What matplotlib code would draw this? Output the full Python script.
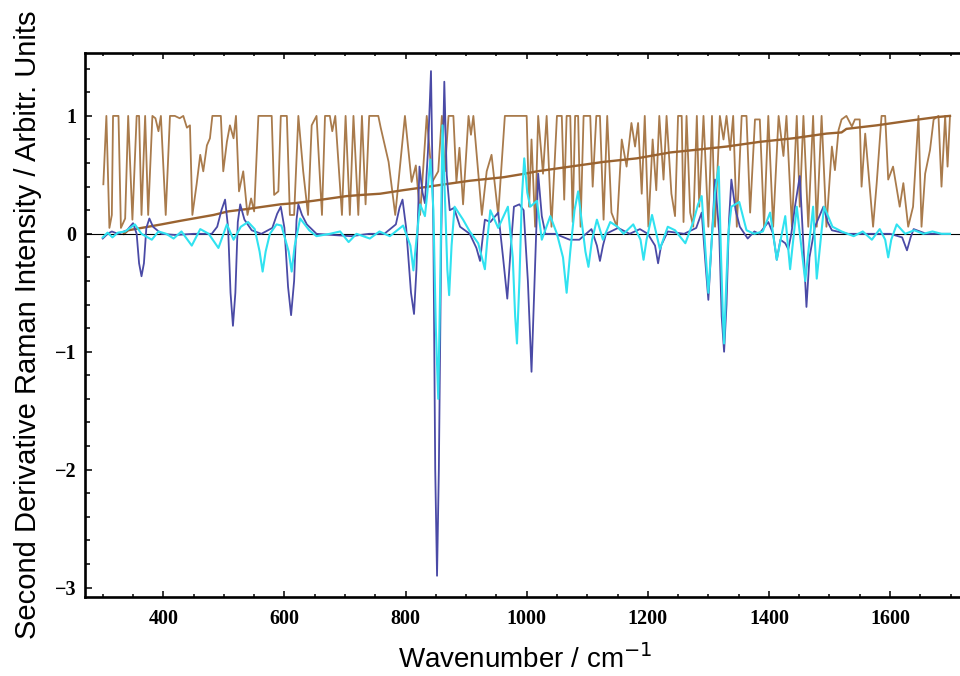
import numpy as np
import matplotlib
matplotlib.use('Agg')
import matplotlib.pyplot as plt
from matplotlib.ticker import MultipleLocator

# second derivative spectrum (dark blue)
blue_x = [300, 308, 315, 325, 340, 350, 356, 360, 364, 368, 372, 377, 383, 397, 420, 450, 480, 489,
          496, 502, 507, 511, 515, 519, 523, 527, 534, 546, 562, 580, 588, 594, 600, 606, 611, 616,
          620, 623, 629, 637, 653, 680, 710, 740, 765, 784, 790, 795, 801, 809, 814, 818, 823, 828,
          832, 837, 842, 846, 849, 852, 855, 859, 864, 868, 873, 880, 890, 906, 917, 923, 927, 931,
          940, 953, 961, 968, 974, 979, 988, 995, 1002, 1008, 1013, 1019, 1025, 1031, 1047, 1071,
          1087, 1107, 1116, 1121, 1126, 1131, 1151, 1170, 1187, 1200, 1212, 1217, 1222, 1233, 1260,
          1280, 1289, 1296, 1300, 1304, 1311, 1318, 1322, 1326, 1330, 1334, 1338, 1345, 1352, 1365,
          1376, 1384, 1399, 1407, 1413, 1419, 1427, 1432, 1437, 1443, 1451, 1457, 1462, 1467, 1476,
          1490, 1497, 1504, 1530, 1560, 1600, 1620, 1628, 1634, 1639, 1660, 1699]
blue_y = [-0.04, 0.0, 0.02, 0.0, 0.03, 0.09, 0.0, -0.25, -0.36, -0.25, 0.05, 0.13, 0.06, 0.0, -0.01,
          0.0, 0.0, 0.06, 0.2, 0.29, 0.05, -0.5, -0.78, -0.5, 0.1, 0.25, 0.12, 0.03, 0.0, 0.05, 0.17,
          0.23, 0.05, -0.45, -0.69, -0.4, 0.12, 0.25, 0.16, 0.08, 0.0, -0.01, -0.02, 0.0, 0.0, 0.08,
          0.22, 0.29, 0.05, -0.5, -0.68, -0.3, 0.57, 0.35, 0.26, 0.7, 1.38, 0.0, -2.0, -2.9, -2.0,
          0.0, 1.29, 0.5, 0.2, 0.22, 0.06, 0.0, -0.12, -0.23, -0.05, 0.12, 0.1, 0.18, -0.2, -0.55,
          -0.1, 0.23, 0.25, 0.2, -0.4, -1.17, -0.4, 0.51, 0.15, 0.0, 0.0, -0.05, -0.05, 0.04, -0.1,
          -0.23, -0.1, 0.0, 0.05, 0.0, 0.04, 0.0, -0.1, -0.25, -0.1, 0.02, 0.0, 0.05, 0.18, -0.3,
          -0.56, -0.2, 0.46, 0.0, -0.7, -1.0, -0.6, 0.1, 0.46, 0.2, 0.06, -0.04, 0.02, 0.0, 0.1,
          0.0, -0.22, -0.05, -0.08, -0.13, 0.0, 0.23, 0.49, -0.1, -0.62, -0.2, 0.06, 0.23, 0.1,
          0.03, 0.0, 0.0, 0.0, -0.03, -0.14, -0.03, 0.04, 0.0, 0.0]

# second derivative spectrum (cyan)
cyan_x = [300, 308, 316, 325, 337, 353, 364, 381, 392, 405, 417, 430, 447, 461, 475, 491, 505, 516,
          528, 540, 551, 559, 564, 569, 576, 587, 595, 607, 612, 617, 626, 641, 653, 675, 692, 706,
          719, 741, 757, 774, 796, 808, 813, 818, 824, 832, 836, 841, 846, 850, 854, 857, 861, 865,
          869, 872, 876, 881, 895, 906, 920, 926, 931, 935, 940, 953, 969, 977, 981, 984, 988, 992,
          996, 1001, 1006, 1017, 1025, 1039, 1050, 1060, 1066, 1072, 1079, 1085, 1091, 1097, 1102,
          1108, 1116, 1126, 1138, 1150, 1160, 1176, 1188, 1193, 1198, 1207, 1220, 1233, 1245, 1262,
          1275, 1283, 1289, 1296, 1300, 1305, 1311, 1317, 1321, 1324, 1326, 1329, 1333, 1338, 1351,
          1363, 1376, 1390, 1402, 1413, 1427, 1435, 1446, 1460, 1473, 1479, 1491, 1505, 1520, 1540,
          1555, 1570, 1583, 1592, 1597, 1602, 1611, 1625, 1640, 1655, 1670, 1685, 1699]
cyan_y = [-0.03, 0.01, -0.03, 0.01, 0.02, 0.08, 0.0, -0.05, 0.02, 0.0, -0.04, 0.02, -0.1, 0.04, 0.0,
          -0.12, 0.08, -0.05, 0.06, 0.1, 0.04, -0.15, -0.32, -0.15, 0.0, 0.08, 0.07, -0.15, -0.32,
          -0.1, 0.13, 0.03, -0.02, 0.0, 0.02, -0.07, 0.0, -0.04, 0.02, -0.02, 0.07, -0.1, -0.31,
          -0.05, 0.25, 0.15, 0.35, 0.63, 0.2, -0.8, -1.4, -0.5, 0.92, 0.3, -0.3, -0.52, -0.1, 0.23,
          0.12, 0.02, -0.08, -0.2, -0.3, -0.05, 0.2, 0.05, 0.23, -0.2, -0.7, -0.93, -0.4, 0.3, 0.64,
          0.35, 0.23, 0.28, -0.05, 0.15, 0.0, -0.2, -0.5, -0.15, 0.2, 0.36, 0.1, -0.15, -0.28, -0.05,
          0.12, -0.05, 0.1, 0.06, 0.0, 0.08, -0.05, -0.22, -0.05, 0.16, -0.13, 0.06, 0.03, -0.08,
          0.1, 0.25, 0.32, -0.2, -0.5, -0.1, 0.35, 0.57, -0.2, -0.7, -0.93, -0.5, 0.0, 0.23, 0.27,
          0.03, 0.0, 0.02, 0.18, -0.22, 0.15, -0.3, 0.23, -0.4, 0.23, -0.38, 0.23, 0.06, 0.02,
          -0.02, 0.02, -0.05, 0.04, -0.05, -0.2, -0.05, 0.08, 0.0, 0.03, 0.0, 0.02, 0.0, 0.0]

# noisy brown trace (0..1), vertices as (wavenumber, value)
brown_pts = [
    (301, 0.42), (306, 1.0), (311, 0.05), (315, 0.16), (317, 1.0), (326, 1.0), (330, 0.05),
    (337, 0.13), (342, 1.0), (349, 0.12), (356, 1.0), (360, 1.0), (364, 0.16), (370, 1.0),
    (375, 0.16), (382, 1.0), (387, 0.98), (392, 0.87), (396, 1.0), (404, 0.16), (411, 1.0),
    (419, 1.0), (427, 0.98), (433, 1.0), (439, 0.9), (444, 0.92), (448, 0.16), (455, 0.42),
    (461, 0.67), (466, 0.53), (472, 0.75), (477, 0.81), (481, 1.0), (495, 1.0), (499, 0.53),
    (505, 0.78), (510, 0.92), (516, 0.81), (520, 1.0), (525, 0.36), (532, 0.53), (539, 0.16),
    (545, 0.30), (550, 0.19), (557, 1.0), (579, 1.0), (583, 0.33), (590, 0.36), (594, 1.0),
    (604, 1.0), (609, 0.16), (616, 0.16), (623, 1.0), (631, 0.53), (639, 0.16), (645, 0.92),
    (653, 1.0), (662, 0.16), (667, 1.0), (675, 1.0), (679, 0.87), (684, 1.0), (695, 0.16),
    (701, 1.0), (708, 0.16), (714, 1.0), (722, 0.16), (728, 1.0), (734, 0.25), (740, 1.0),
    (755, 1.0), (759, 0.9), (772, 0.61), (783, 0.16), (799, 1.0), (810, 0.44), (817, 0.58),
    (824, 0.16), (835, 1.0), (844, 0.44), (854, 0.53), (860, 1.0), (865, 0.53), (871, 1.0),
    (879, 1.0), (884, 0.44), (889, 0.73), (895, 0.25), (904, 1.0), (908, 0.84), (912, 1.0),
    (926, 0.16), (934, 0.53), (942, 0.67), (953, 0.16), (964, 1.0), (1000, 1.0), (1004, 0.23),
    (1008, 0.80), (1014, 0.06), (1019, 1.0), (1027, 0.51), (1033, 1.0), (1041, 0.06), (1050, 1.0),
    (1058, 1.0), (1062, 0.29), (1066, 1.0), (1072, 1.0), (1076, 0.1), (1080, 1.0), (1085, 1.0),
    (1089, 0.06), (1094, 1.0), (1105, 1.0), (1109, 0.40), (1115, 1.0), (1121, 1.0), (1127, 0.12),
    (1133, 1.0), (1140, 0.18), (1149, 0.06), (1157, 0.80), (1165, 0.57), (1173, 0.94),
    (1179, 0.74), (1184, 0.94), (1190, 0.34), (1195, 1.0), (1201, 0.06), (1208, 0.80),
    (1214, 0.37), (1219, 1.0), (1226, 0.46), (1231, 1.0), (1239, 0.34), (1245, 0.15), (1250, 1.0),
    (1256, 1.0), (1259, 0.1), (1264, 1.0), (1270, 0.18), (1275, 0.06), (1281, 1.0), (1285, 0.23),
    (1292, 1.0), (1300, 0.06), (1306, 1.0), (1311, 0.06), (1319, 1.0), (1325, 0.80), (1330, 1.0),
    (1336, 0.71), (1341, 1.0), (1347, 0.06), (1355, 1.0), (1363, 1.0), (1369, 0.18), (1377, 0.97),
    (1385, 0.97), (1392, 0.06), (1399, 1.0), (1407, 0.06), (1416, 1.0), (1424, 0.66), (1429, 1.0),
    (1438, 0.06), (1446, 1.0), (1451, 0.23), (1457, 1.0), (1465, 0.06), (1473, 1.0), (1479, 0.06),
    (1487, 1.0), (1495, 0.06), (1504, 0.74), (1509, 0.54), (1515, 0.88), (1520, 0.97), (1528, 1.0),
    (1537, 0.91), (1542, 0.97), (1550, 0.97), (1553, 0.40), (1559, 0.85), (1572, 0.06),
    (1578, 0.43), (1586, 1.0), (1592, 1.0), (1597, 0.46), (1605, 0.57), (1616, 0.23), (1622, 0.43),
    (1630, 0.06), (1638, 0.23), (1647, 1.0), (1652, 0.06), (1658, 0.51), (1666, 0.71),
    (1672, 0.97), (1680, 1.0), (1685, 0.40), (1691, 1.0), (1695, 0.57), (1699, 1.0)]

# smooth cumulative brown curve
cum_x = [335, 342, 397, 428, 483, 507, 538, 593, 617, 648, 703, 728, 758, 796, 838, 851, 906, 962,
         997, 1017, 1072, 1127, 1182, 1237, 1275, 1330, 1385, 1440, 1495, 1520, 1528, 1578, 1633,
         1677, 1699]
cum_y = [0.0, 0.03, 0.08, 0.11, 0.16, 0.19, 0.21, 0.25, 0.26, 0.28, 0.32, 0.33, 0.34, 0.37, 0.40,
         0.41, 0.45, 0.48, 0.51, 0.53, 0.57, 0.61, 0.64, 0.69, 0.71, 0.74, 0.78, 0.81, 0.85, 0.86,
         0.89, 0.92, 0.96, 0.99, 1.0]

x_ticks = [400, 600, 800, 1000, 1200, 1400, 1600]
y_ticks = [-3, -2, -1, 0, 1]
y_ticklabels = ['\u22123', '\u22122', '\u22121', '0', '1']

#==============================================================================
brown_x = [p[0] for p in brown_pts]
brown_y = [p[1] for p in brown_pts]

fig = plt.figure(figsize=(9.6, 6.76), dpi=100)
ax = fig.add_axes([85/960, 79/676, 880/960, 544.3/676])

ax.plot(brown_x, brown_y, color='#a97b4c', lw=1.3, zorder=2)
ax.plot(cum_x, cum_y, color='#9a6330', lw=1.7, zorder=3)
ax.axhline(0, color='black', lw=0.8, zorder=4)
ax.plot(blue_x, blue_y, color='#4a4aa6', lw=1.3, zorder=5)
ax.plot(cyan_x, cyan_y, color='#30e2f0', lw=1.5, zorder=6)

ax.set_xlim(270.7, 1723.8)
ax.set_ylim(-3.08, 1.536)

ax.set_xticks(x_ticks)
ax.set_yticks(y_ticks)
ax.set_yticklabels(y_ticklabels)
ax.xaxis.set_minor_locator(MultipleLocator(50))
ax.yaxis.set_minor_locator(MultipleLocator(0.2))

ax.tick_params(axis='x', which='both', direction='in', top=True, width=1.1, pad=9)
ax.tick_params(axis='x', which='major', length=4)
ax.tick_params(axis='x', which='minor', length=2.3)
ax.tick_params(axis='y', which='both', direction='in', right=False, width=1.1, pad=6)
ax.tick_params(axis='y', which='major', length=5)
ax.tick_params(axis='y', which='minor', length=3.5)
for lab in ax.get_xticklabels() + ax.get_yticklabels():
    lab.set_fontfamily('Liberation Serif')
    lab.set_fontweight('bold')
    lab.set_fontsize(14.5)

for s in ['left', 'bottom', 'top', 'right']:
    ax.spines[s].set_linewidth(1.9)

fig.text(525/960, 8/676, 'Wavenumber / cm$^{-1}$', ha='center', va='baseline',
         fontsize=20, family='Liberation Sans')
fig.text(28/960, 351/676, 'Second Derivative Raman Intensity / Arbitr. Units', rotation=90,
         ha='center', va='center', fontsize=21, family='Liberation Sans')

plt.savefig('out.png', dpi=100)
